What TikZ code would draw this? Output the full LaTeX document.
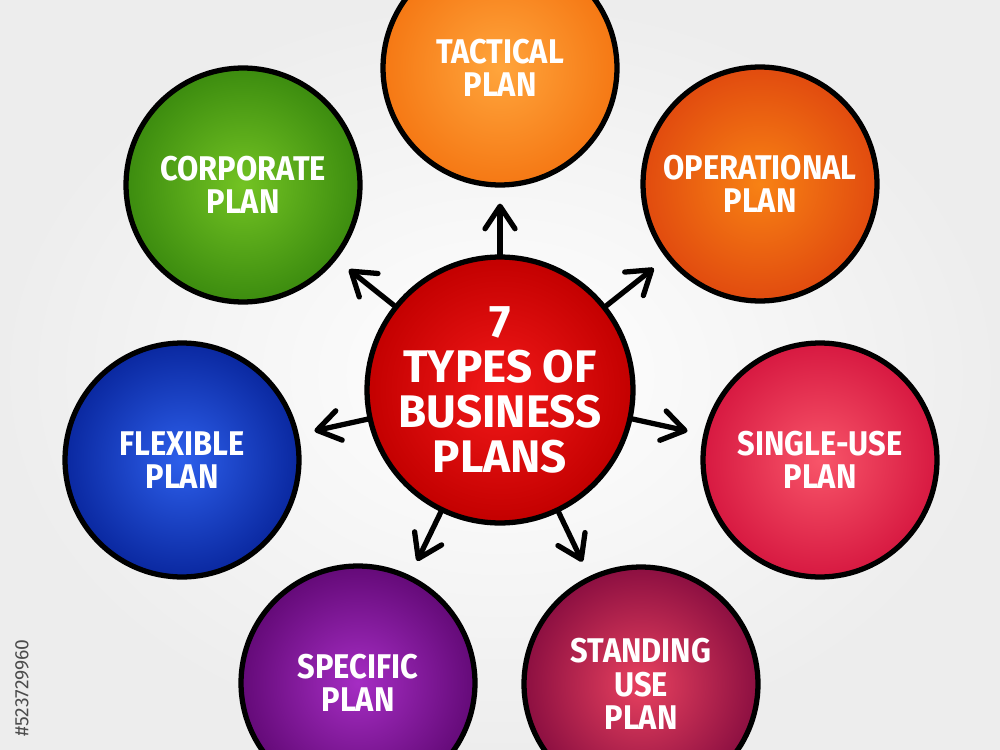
\documentclass[tikz,border=0pt]{standalone}
\usepackage{fontspec}
\setmainfont{Fira Sans}
\newfontfamily\planfont[FakeStretch=0.9]{Fira Sans}
\usetikzlibrary{arrows.meta}

\definecolor{tacticalin}{RGB}{255,165,60}
\definecolor{tacticalout}{RGB}{245,120,20}
\definecolor{corporatein}{RGB}{115,195,35}
\definecolor{corporateout}{RGB}{60,140,15}
\definecolor{operationalin}{RGB}{248,130,20}
\definecolor{operationalout}{RGB}{225,75,15}
\definecolor{corein}{RGB}{242,25,25}
\definecolor{coreout}{RGB}{195,0,0}
\definecolor{flexiblein}{RGB}{45,95,235}
\definecolor{flexibleout}{RGB}{10,40,160}
\definecolor{singlein}{RGB}{248,85,105}
\definecolor{singleout}{RGB}{215,25,65}
\definecolor{specificin}{RGB}{165,45,195}
\definecolor{specificout}{RGB}{100,10,120}
\definecolor{standingin}{RGB}{232,65,95}
\definecolor{standingout}{RGB}{140,15,65}

\begin{document}
\begin{tikzpicture}[
    x=0.02cm, y=-0.02cm,
    plan/.style={circle, draw=black, line width=3pt, minimum size=4.68cm, inner sep=0pt, align=center, text=white, font=\planfont\bfseries\fontsize{19.5}{19}\selectfont},
    core/.style={plan, minimum size=5.32cm, font=\bfseries\fontsize{26}{25.5}\selectfont},
    arrow/.style={-{Straight Barb[length=0.45cm, width=0.6cm, line cap=round, line join=round]}, line width=3pt, line cap=round, shorten >=0.32cm}
  ]
    \useasboundingbox (0,0) rectangle (1000,750);
    \shade[inner color=white, outer color=black!7] (0,0) rectangle (1000,750);

    \node[core, inner color=corein, outer color=coreout] (core) at (500,390) {7\\TYPES OF\\BUSINESS\\PLANS};
    \node[plan, inner color=tacticalin, outer color=tacticalout] (tactical) at (500,68) {TACTICAL\\PLAN};
    \node[plan, inner color=corporatein, outer color=corporateout] (corporate) at (243,185) {CORPORATE\\PLAN};
    \node[plan, inner color=operationalin, outer color=operationalout] (operational) at (760,184) {OPERATIONAL\\PLAN};
    \node[plan, inner color=flexiblein, outer color=flexibleout] (flexible) at (182,460) {FLEXIBLE\\PLAN};
    \node[plan, inner color=singlein, outer color=singleout] (single) at (820,460) {SINGLE-USE\\PLAN};
    \node[plan, inner color=specificin, outer color=specificout] (specific) at (358,683) {SPECIFIC\\PLAN};
    \node[plan, inner color=standingin, outer color=standingout] (standing) at (641,684) {STANDING\\USE\\PLAN};

    \node[rotate=90, text=black!70, font=\fontsize{11}{11}\selectfont] (stockid) at (22,688) {\#523729960};

    \draw[arrow] (core) -- (tactical);
    \draw[arrow] (core) -- (corporate);
    \draw[arrow] (core) -- (operational);
    \draw[arrow] (core) -- (flexible);
    \draw[arrow] (core) -- (single);
    \draw[arrow] (core) -- (specific);
    \draw[arrow] (core) -- (standing);
  \end{tikzpicture}
\end{document}
